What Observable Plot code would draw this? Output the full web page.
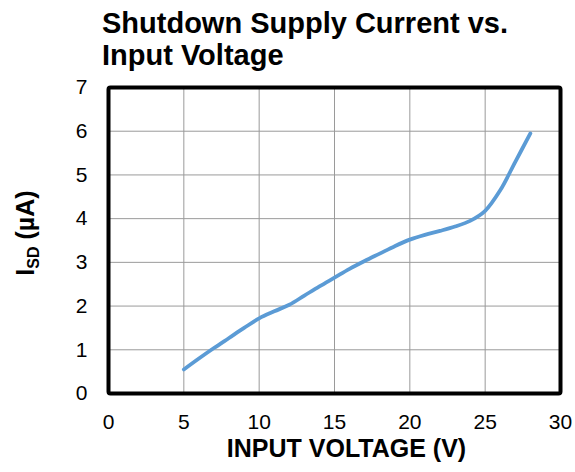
<!DOCTYPE html>
<html>
<head>
<meta charset="utf-8">
<script src="https://cdn.jsdelivr.net/npm/d3@7"></script>
<script src="https://cdn.jsdelivr.net/npm/@observablehq/plot@0.6"></script>
<style>
  html, body { margin: 0; padding: 0; background: #fff; }
  #title { font-family: "Liberation Sans", Arial, sans-serif; font-weight: bold; font-size: 29px; line-height: 32px; padding: 7px 0 0 102px; height: 65px; color: #000; box-sizing: content-box; white-space: nowrap; }
  #chart svg { display: block; }
</style>
</head>
<body>
<div id="title">Shutdown Supply Current vs.<br>Input Voltage</div>
<div id="chart"></div>
<script>
const voltage = [5, 6, 7, 8, 9, 10, 11, 12, 13, 14, 15, 16, 17, 18, 19, 20, 21, 22, 23, 24, 25, 26, 27, 28];
const current = [0.55, 0.8, 1.04, 1.27, 1.5, 1.72, 1.88, 2.03, 2.24, 2.45, 2.65, 2.85, 3.03, 3.2, 3.37, 3.52, 3.63, 3.72, 3.82, 3.95, 4.18, 4.65, 5.3, 5.95];
const xTicks = [0, 5, 10, 15, 20, 25, 30];
const yTicks = [0, 1, 2, 3, 4, 5, 6, 7];
const data = voltage.map((v, i) => ({v, c: current[i]}));

const plot = Plot.plot({
  width: 575,
  height: 400,
  marginTop: 15,
  marginBottom: 79,
  marginLeft: 108,
  marginRight: 15,
  style: {fontFamily: "'Liberation Sans', Arial, sans-serif", fontSize: "21px", color: "#000", background: "#fff"},
  x: {domain: [0, 30], ticks: xTicks},
  y: {domain: [0, 7], ticks: yTicks},
  marks: [
    Plot.gridX(xTicks, {stroke: "#9a9a9a", strokeOpacity: 1, strokeWidth: 1}),
    Plot.gridY(yTicks, {stroke: "#9a9a9a", strokeOpacity: 1, strokeWidth: 1}),
    Plot.line(data, {x: "v", y: "c", stroke: "#5B9BD5", strokeWidth: 3.8, curve: "catmull-rom", strokeLinecap: "round"}),
    Plot.frame({stroke: "#000", strokeWidth: 4, rx: 2}),
    Plot.axisX(xTicks, {tickSize: 0, tickPadding: 21, label: null, fontSize: 21}),
    Plot.axisY(yTicks, {tickSize: 0, tickPadding: 21, label: null, fontSize: 21}),
    Plot.text(["INPUT VOLTAGE (V)"], {frameAnchor: "bottom", dy: 63, dx: 12, fontWeight: "bold", fontSize: 25})
  ]
});
document.getElementById("chart").appendChild(plot);

const svg = d3.select(plot);
const lbl = svg.append("text")
  .attr("transform", "translate(34,161) rotate(-90)")
  .attr("text-anchor", "middle")
  .attr("font-family", "'Liberation Sans', Arial, sans-serif")
  .attr("font-weight", "bold")
  .attr("font-size", 25)
  .attr("fill", "#000");
lbl.append("tspan").text("I");
lbl.append("tspan").attr("font-size", 16).attr("dy", 5).text("SD");
lbl.append("tspan").attr("dy", -5).text(" (µA)");
</script>
</body>
</html>
